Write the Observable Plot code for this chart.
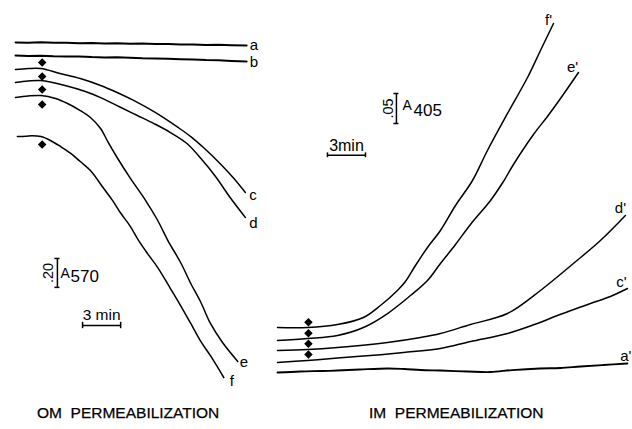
<!DOCTYPE html>
<html><head><meta charset="utf-8">
<script src="https://cdn.jsdelivr.net/npm/d3@7"></script>
<script src="https://cdn.jsdelivr.net/npm/@observablehq/plot@0.6"></script>
<style>
html,body{margin:0;padding:0;background:#fff;}
#fig{position:relative;width:632px;height:429px;overflow:hidden;font-family:"Liberation Sans",Arial,Helvetica,sans-serif;color:#000;}
#om{position:absolute;left:0;top:0;}
#im{position:absolute;left:270px;top:0;}
.cap{position:absolute;top:405px;font-size:15.5px;line-height:1;white-space:pre;-webkit-text-stroke:0.25px #000;}
</style></head><body>
<div id="fig">
<div id="om"></div><div id="im"></div>
<div class="cap" style="left:37px">OM  PERMEABILIZATION</div>
<div class="cap" style="left:369px">IM  PERMEABILIZATION</div>
</div>
<script>
// ===== OM permeabilization: relative A570 vs time (min) =====
const omA_t = [0, 1, 2, 3, 4, 5, 6, 7, 8, 9, 10, 11, 12, 13, 14, 15, 16, 17, 18.2];
const omA_v = [0.010, 0.008, 0.011, 0.007, 0.008, 0.004, 0.006, 0.003, 0.004, 0.000, 0.002, -0.002, -0.001, -0.005, -0.004, -0.008, -0.007, -0.010, -0.012];
const omB_t = [0, 1, 2, 3, 4, 5, 6, 7, 8, 9, 10, 11, 12, 13, 14, 15, 16, 17, 18.2];
const omB_v = [-0.081, -0.084, -0.082, -0.086, -0.088, -0.087, -0.092, -0.094, -0.093, -0.097, -0.100, -0.101, -0.104, -0.106, -0.108, -0.112, -0.114, -0.118, -0.122];
const omC_t = [0, 1, 2, 3.5, 5.1, 6.7, 8, 9.3, 11, 12.8, 13.8, 14.8, 16.1, 17.2, 18.1];
const omC_v = [-0.178, -0.171, -0.171, -0.205, -0.240, -0.288, -0.337, -0.392, -0.475, -0.579, -0.642, -0.718, -0.828, -0.932, -1.029];
const omD_t = [0, 1, 2, 3.9, 5.5, 6.7, 8.3, 9.6, 10.9, 12.2, 13.5, 14.6, 15.75, 16.9, 18.1];
const omD_v = [-0.268, -0.257, -0.254, -0.288, -0.330, -0.372, -0.441, -0.496, -0.552, -0.614, -0.690, -0.794, -0.918, -1.064, -1.202];
const omE_t = [0, 1, 2, 3.15, 4.1, 5.1, 5.9, 6.7, 7.3, 8, 9.05, 10.25, 11.2, 12, 13, 13.8, 14.6, 15.35, 16.3, 17.5];
const omE_v = [-0.372, -0.361, -0.358, -0.378, -0.413, -0.462, -0.510, -0.586, -0.683, -0.787, -0.932, -1.085, -1.223, -1.362, -1.514, -1.659, -1.791, -1.936, -2.068, -2.199];
const omF_t = [0.15, 0.8, 1.3, 2, 2.75, 3.55, 4.35, 5.1, 5.9, 6.95, 7.65, 8.25, 9.05, 9.7, 10.4, 11.2, 12.2, 13, 13.8, 14.55, 15.5, 16.4];
const omF_v = [-0.642, -0.640, -0.636, -0.642, -0.669, -0.711, -0.759, -0.815, -0.877, -1.002, -1.085, -1.168, -1.265, -1.362, -1.452, -1.549, -1.694, -1.812, -1.936, -2.054, -2.179, -2.310];
const omLabels = ["a", "b", "c", "d", "e", "f"];
const omAddT = 2.1;                                         // addition marks (min)
const omAddV = [-0.129, -0.226, -0.316, -0.420, -0.697];    // under traces b..f
const omBarAbs = [-1.686, -1.486];                          // 0.20 A570 scale bar
const omBarAbsT = 3.3;
const omBarTime = [5.28, 8.28];                             // 3 min scale bar
const omBarTimeV = -1.95;

// ===== IM permeabilization: relative A405 vs time (min) =====
const imA_t = [0, 1.8, 3.5, 4.7, 6.5, 8.7, 10, 11.3, 12.85, 15, 16.8, 18.5, 20.7, 22.3, 23.9, 25.7, 27.6];
const imA_v = [0, 0.0017, 0.0025, 0.0033, 0.005, 0.0067, 0.0058, 0.0042, 0.0033, 0.0017, 0.0008, 0.004, 0.0067, 0.0075, 0.01, 0.0125, 0.015];
const imC_t = [0, 2.37, 4.73, 7.33, 9.94, 12.85, 15.22, 18.14, 20.5, 22.08, 24.68, 26.26, 27.6];
const imC_v = [0.0167, 0.02, 0.0242, 0.0283, 0.0333, 0.04, 0.0517, 0.065, 0.0817, 0.095, 0.115, 0.1267, 0.14];
const imD_t = [0, 2.37, 4.73, 8.68, 11.28, 12.85, 15.22, 18.14, 20.74, 23.34, 25.47, 27.44];
const imD_v = [0.0367, 0.0383, 0.0417, 0.05, 0.0583, 0.065, 0.08, 0.0983, 0.1367, 0.1817, 0.22, 0.2617];
const imE_t = [0, 2.37, 4.73, 6.78, 8.68, 10.49, 11.83, 12.85, 14.04, 15.22, 16.8, 17.82, 18.61, 20.19, 21.29, 22.32, 23.74];
const imE_v = [0.0533, 0.0567, 0.0617, 0.075, 0.0983, 0.1283, 0.1533, 0.1817, 0.2133, 0.2467, 0.2867, 0.3183, 0.3467, 0.3967, 0.4267, 0.4567, 0.50];
const imF_t = [0, 2.37, 4.73, 6.78, 8.12, 9.46, 10.09, 10.88, 11.83, 12.85, 14.04, 15.38, 16.56, 18.14, 19.72, 20.74, 21.77];
const imF_v = [0.075, 0.075, 0.08, 0.0917, 0.1117, 0.1367, 0.1517, 0.1783, 0.2083, 0.2367, 0.2783, 0.32, 0.37, 0.4317, 0.4917, 0.5367, 0.5817];
const imLabels = ["a'", "c'", "d'", "e'", "f'"];
const imAddT = 2.44;
const imAddV = [0.0838, 0.0655, 0.0478, 0.03];              // above traces f'..c'
const imBarAbs = [0.415, 0.465];                            // 0.05 A405 scale bar
const imBarAbsT = 9.38;
const imBarTime = [3.94, 6.94];                             // 3 min scale bar
const imBarTimeV = 0.362;

const FONT = "Liberation Sans, Arial, Helvetica, sans-serif";

function rows(list) {
  return list.flatMap(s => s.t.map((t, i) => ({s: s.key, noisy: s.noisy, t, v: s.v[i]})));
}
function labelMarks(list, offsets) {
  return list.map(s => {
    const last = {t: s.t[s.t.length - 1], v: s.v[s.v.length - 1], key: s.key};
    const o = offsets[s.key];
    return Plot.text([last], {x: "t", y: "v", text: "key", textAnchor: o[2], lineAnchor: "middle",
      dx: o[0], dy: o[1], fontSize: 15});
  });
}
function scaleBars(absPair, absT, absHalf, timePair, timeV, timeHalf) {
  return [
    Plot.ruleX([absT], {x: d => d, y1: () => absPair[0], y2: () => absPair[1], strokeWidth: 1.5}),
    Plot.ruleY(absPair, {y: d => d, x1: () => absT - absHalf, x2: () => absT + absHalf, strokeWidth: 1.5}),
    Plot.ruleY([timeV], {y: d => d, x1: () => timePair[0], x2: () => timePair[1], strokeWidth: 1.5}),
    Plot.ruleX(timePair, {x: d => d, y1: () => timeV - timeHalf, y2: () => timeV + timeHalf, strokeWidth: 1.5})
  ];
}

// ---- left panel ----
const omSeries = [
  {key: omLabels[0], t: omA_t, v: omA_v, noisy: true},
  {key: omLabels[1], t: omB_t, v: omB_v, noisy: true},
  {key: omLabels[2], t: omC_t, v: omC_v},
  {key: omLabels[3], t: omD_t, v: omD_v},
  {key: omLabels[4], t: omE_t, v: omE_v},
  {key: omLabels[5], t: omF_t, v: omF_v}
];
const omRows = rows(omSeries);
const omOff = {a: [3, 0, "start"], b: [3, 1, "start"], c: [4, 3, "start"], d: [4, 6, "start"], e: [2, 1, "start"], f: [6, 4, "start"]};

const left = Plot.plot({
  width: 270, height: 390,
  marginTop: 0, marginBottom: 0, marginLeft: 15, marginRight: 1,
  x: {domain: [0, 20], axis: null},
  y: {domain: [-2.4, 0.3], axis: null},
  style: {fontFamily: FONT, background: "transparent", color: "#000"},
  marks: [
    Plot.line(omRows.filter(d => d.noisy), {x: "t", y: "v", z: "s", stroke: "#000", strokeWidth: 2}),
    Plot.line(omRows.filter(d => !d.noisy), {x: "t", y: "v", z: "s", stroke: "#000", strokeWidth: 1.5, curve: "catmull-rom"}),
    Plot.dot(omAddV, {x: () => omAddT, y: d => d, symbol: "square", rotate: 45, r: 3.4, fill: "#000", stroke: "none"}),
    ...labelMarks(omSeries, omOff),
    ...scaleBars(omBarAbs, omBarAbsT, 0.2, omBarTime, omBarTimeV, 0.022),
    Plot.text([".20"], {x: () => omBarAbsT - 0.75, y: () => (omBarAbs[0] + omBarAbs[1]) / 2, text: d => d, rotate: -90, fontSize: 14.5, lineAnchor: "middle"}),
    Plot.text(["A"], {x: () => omBarAbsT + 0.24, y: () => -1.618, text: d => d, textAnchor: "start", lineAnchor: "bottom", fontSize: 14}),
    Plot.text(["570"], {x: () => omBarAbsT + 1.03, y: () => -1.652, text: d => d, textAnchor: "start", lineAnchor: "bottom", fontSize: 17}),
    Plot.text(["3 min"], {x: () => (omBarTime[0] + omBarTime[1]) / 2, y: () => -1.915, text: d => d, textAnchor: "middle", lineAnchor: "bottom", fontSize: 15.5})
  ]
});
document.getElementById("om").appendChild(left);

// ---- right panel ----
const imSeries = [
  {key: imLabels[0], t: imA_t, v: imA_v, noisy: true},
  {key: imLabels[1], t: imC_t, v: imC_v},
  {key: imLabels[2], t: imD_t, v: imD_v},
  {key: imLabels[3], t: imE_t, v: imE_v},
  {key: imLabels[4], t: imF_t, v: imF_v}
];
const imRows = rows(imSeries);
const imOff = {"a'": [4, -7, "end"], "c'": [-6, -6, "middle"], "d'": [-5, -7, "middle"], "e'": [-6, -5, "middle"], "f'": [-5, -3, "middle"]};

const right = Plot.plot({
  width: 362, height: 390,
  marginTop: 0, marginBottom: 0, marginLeft: 7, marginRight: 0,
  x: {domain: [0, 28], axis: null},
  y: {domain: [-0.03, 0.62], axis: null},
  style: {fontFamily: FONT, background: "transparent", color: "#000", overflow: "visible"},
  marks: [
    Plot.line(imRows.filter(d => d.noisy), {x: "t", y: "v", z: "s", stroke: "#000", strokeWidth: 1.8, curve: "catmull-rom"}),
    Plot.line(imRows.filter(d => !d.noisy), {x: "t", y: "v", z: "s", stroke: "#000", strokeWidth: 1.5, curve: "catmull-rom"}),
    Plot.dot(imAddV, {x: () => imAddT, y: d => d, symbol: "square", rotate: 45, r: 3.4, fill: "#000", stroke: "none"}),
    ...labelMarks(imSeries, imOff),
    ...scaleBars(imBarAbs, imBarAbsT, 0.2, imBarTime, imBarTimeV, 0.004),
    Plot.text([".05"], {x: () => imBarAbsT - 0.63, y: () => (imBarAbs[0] + imBarAbs[1]) / 2, text: d => d, rotate: -90, fontSize: 14.5, lineAnchor: "middle"}),
    Plot.text(["A"], {x: () => imBarAbsT + 0.48, y: () => 0.437, text: d => d, textAnchor: "start", lineAnchor: "bottom", fontSize: 14}),
    Plot.text(["405"], {x: () => imBarAbsT + 1.35, y: () => 0.428, text: d => d, textAnchor: "start", lineAnchor: "bottom", fontSize: 17}),
    Plot.text(["3min"], {x: () => (imBarTime[0] + imBarTime[1]) / 2, y: () => 0.37, text: d => d, textAnchor: "middle", lineAnchor: "bottom", fontSize: 16})
  ]
});
document.getElementById("im").appendChild(right);
</script>
</body></html>
